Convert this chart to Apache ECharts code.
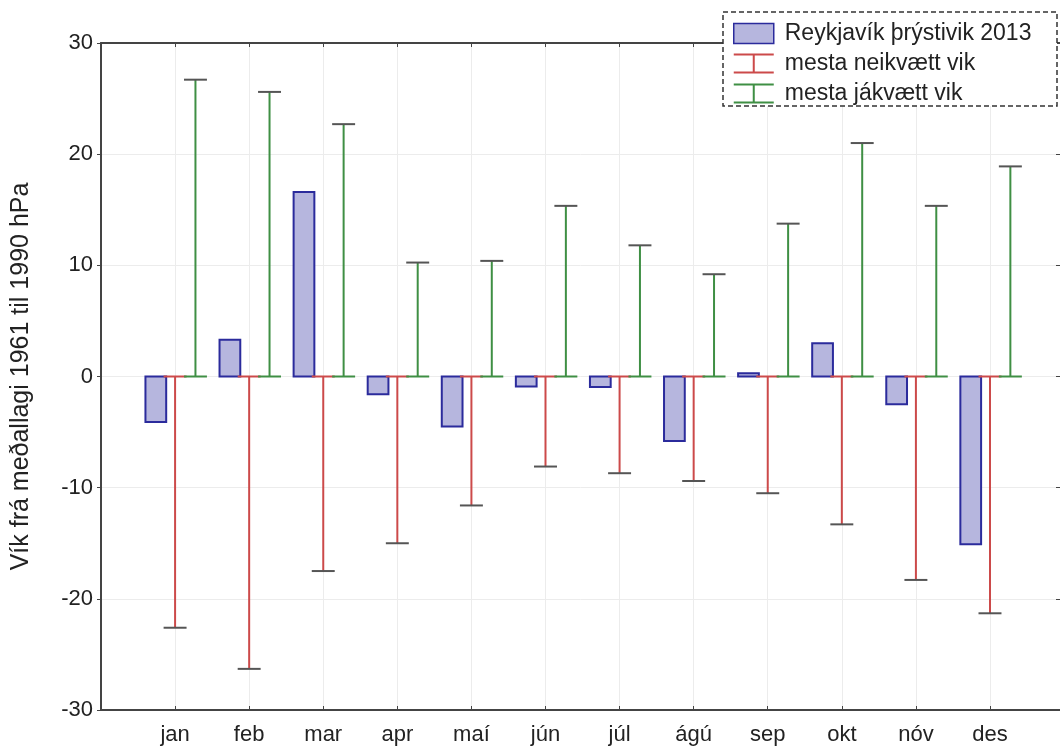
<!DOCTYPE html>
<html>
<head>
<meta charset="utf-8">
<script src="https://cdn.jsdelivr.net/npm/echarts@6/dist/echarts.min.js"></script>
<style>
html,body{margin:0;padding:0;background:#fff;}
#chart{width:1060px;height:751px;}
</style>
</head>
<body>
<div id="chart"></div>
<script>
var months = ['jan','feb','mar','apr','maí','jún','júl','ágú','sep','okt','nóv','des'];
var pressure2013 = [-4.1, 3.3, 16.6, -1.6, -4.5, -0.9, -0.95, -5.8, 0.3, 3.0, -2.5, -15.1];
var maxNegative = [-22.6, -26.3, -17.5, -15.0, -11.6, -8.1, -8.7, -9.4, -10.5, -13.3, -18.3, -21.3];
var maxPositive = [26.7, 25.6, 22.7, 10.25, 10.4, 15.35, 11.8, 9.2, 13.75, 21.0, 15.35, 18.9];
var yTicks = [-30, -20, -10, 0, 10, 20, 30];

var names = ['Reykjavík þrýstivik 2013', 'mesta neikvætt vik', 'mesta jákvætt vik'];
var barFill = '#b6b6de', barBorder = '#2b2b9c';
var red = '#cc4a4a', green = '#3f8f44', capColor = '#555';

function pts(arr){ return arr.map(function(v,i){ return [i+1, v]; }); }

function barItem(params, api){
  var x = api.value(0), y = api.value(1);
  var a = api.coord([x-0.40, 0]), b = api.coord([x-0.12, y]);
  return {type:'rect', shape:{x:a[0], y:Math.min(a[1],b[1]), width:b[0]-a[0], height:Math.abs(b[1]-a[1])},
    style:{fill:barFill, stroke:barBorder, lineWidth:2}};
}
function errItem(off, col){
  return function(params, api){
    var x = api.value(0)+off, y = api.value(1);
    var p0 = api.coord([x, 0]), p1 = api.coord([x, y]);
    var hw = api.size([0.155, 0])[0];
    return {type:'group', children:[
      {type:'line', shape:{x1:p0[0], y1:p0[1], x2:p1[0], y2:p1[1]}, style:{stroke:col, lineWidth:2}},
      {type:'line', shape:{x1:p0[0]-hw, y1:p0[1], x2:p0[0]+hw, y2:p0[1]}, style:{stroke:col, lineWidth:2}},
      {type:'line', shape:{x1:p1[0]-hw, y1:p1[1], x2:p1[0]+hw, y2:p1[1]}, style:{stroke:capColor, lineWidth:2}}
    ]};
  };
}

var ibeam = 'path://M0,0 H40 V2 H21 V18 H40 V20 H0 V18 H19 V2 H0 Z';
var font = 'Liberation Sans, Arial, sans-serif';

var chart = echarts.init(document.getElementById('chart'));
chart.setOption({
  animation:false,
  backgroundColor:'#fff',
  textStyle:{fontFamily:font},
  grid:{left:101, top:43, right:0, bottom:41},
  graphic:[{type:'rect', z:2, shape:{x:723, y:12, width:334, height:94},
    style:{fill:'#fff', stroke:'#333', lineWidth:1.5, lineDash:[5,3]}}],
  legend:{
    orient:'vertical', left:733, top:22, itemWidth:40, itemHeight:20, itemGap:7, z:5, padding:0,
    textStyle:{fontSize:23, lineHeight:20, color:'#222', fontFamily:font, padding:[0,0,0,6]},
    data:[
      {name:names[0], icon:'rect', itemStyle:{color:barFill, borderColor:barBorder, borderWidth:1.5}},
      {name:names[1], icon:ibeam, itemStyle:{color:red}},
      {name:names[2], icon:ibeam, itemStyle:{color:green}}
    ]
  },
  xAxis:[{
    type:'value', min:0, max:12.945, interval:1,
    axisLine:{show:true, onZero:false, lineStyle:{color:'#444', width:2}},
    axisTick:{show:true, inside:true, length:4, lineStyle:{color:'#444'}},
    axisLabel:{fontSize:22, color:'#222', margin:14, showMinLabel:false, showMaxLabel:false,
      formatter:function(v){ return (v>=1 && v<=12 && v===Math.round(v)) ? months[v-1] : ''; }},
    splitLine:{show:true, lineStyle:{color:'#ececec', width:1}}
  },{
    type:'value', min:0, max:12.945, interval:1, position:'top',
    axisLine:{show:true, onZero:false, lineStyle:{color:'#444', width:2}},
    axisTick:{show:true, inside:true, length:4, lineStyle:{color:'#444'}},
    axisLabel:{show:false}, splitLine:{show:false}
  }],
  yAxis:[{
    type:'value', min:-30, max:30, interval:10,
    name:'Vík frá meðallagi 1961 til 1990 hPa', nameLocation:'middle', nameRotate:90, nameGap:67,
    nameTextStyle:{fontSize:25, color:'#222', fontFamily:font},
    axisLine:{show:true, onZero:false, lineStyle:{color:'#444', width:2}},
    axisTick:{show:true, inside:false, length:4, lineStyle:{color:'#444'}},
    axisLabel:{fontSize:22, color:'#222', margin:8,
      formatter:function(v){ return yTicks.indexOf(v)>=0 ? String(v) : ''; }},
    splitLine:{show:true, lineStyle:{color:'#ececec', width:1}}
  },{
    type:'value', min:-30, max:30, interval:10, position:'right',
    axisLine:{show:false, onZero:false},
    axisTick:{show:true, inside:true, length:4, lineStyle:{color:'#444'}},
    axisLabel:{show:false}, splitLine:{show:false}
  }],
  series:[
    {name:names[0], type:'custom', renderItem:barItem, data:pts(pressure2013), encode:{x:0,y:1}, z:3},
    {name:names[1], type:'custom', renderItem:errItem(0, red), data:pts(maxNegative), encode:{x:0,y:1}, z:3},
    {name:names[2], type:'custom', renderItem:errItem(0.275, green), data:pts(maxPositive), encode:{x:0,y:1}, z:3}
  ]
});
</script>
</body>
</html>
